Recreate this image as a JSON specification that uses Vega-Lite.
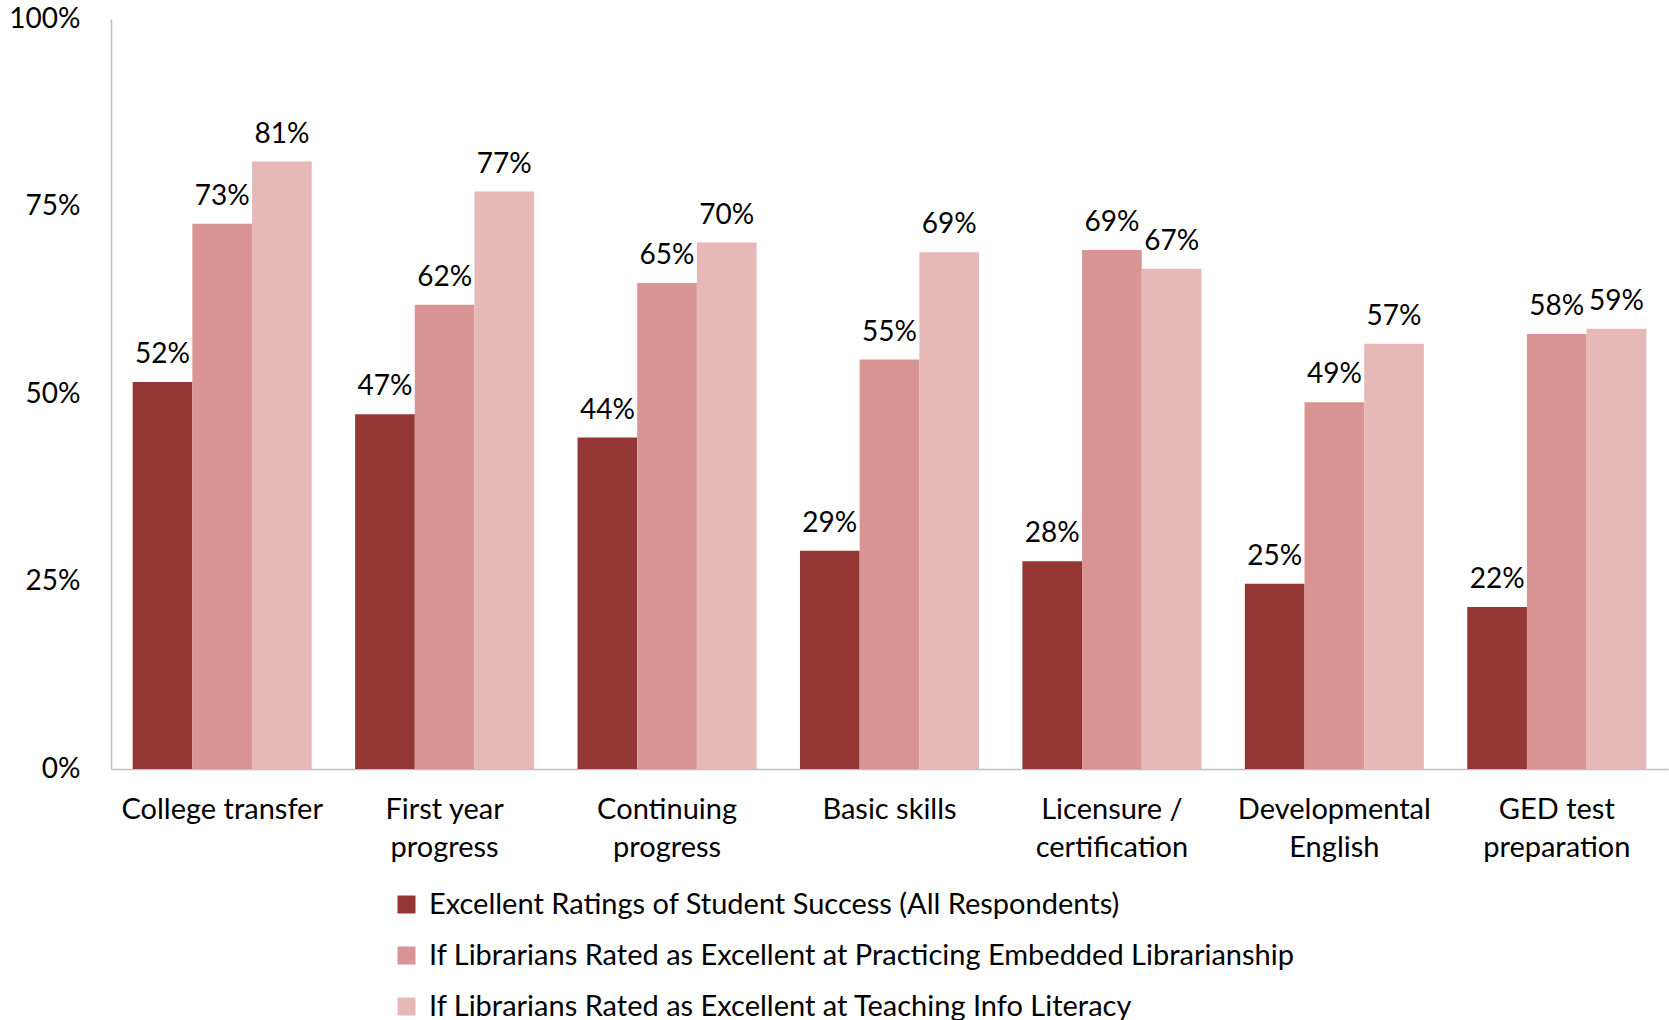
{
  "$schema": "https://vega.github.io/schema/vega-lite/v6.json",
  "width": 1557,
  "height": 750,
  "autosize": {"type": "none"},
  "padding": {"left": 111, "top": 19, "right": 1, "bottom": 251},
  "background": "white",
  "config": {
    "view": {"stroke": null},
    "font": "Lato",
    "axis": {"labelFont": "Lato", "labelColor": "#000000", "domainColor": "#BFBFBF", "domainWidth": 1.5, "ticks": false, "grid": false, "title": null},
    "legend": {"labelFont": "Lato"}
  },
  "data": {
    "values": [
      {"category": "College transfer", "series": "Excellent Ratings of Student Success (All Respondents)", "value": 0.516},
      {"category": "College transfer", "series": "If Librarians Rated as Excellent at Practicing Embedded Librarianship", "value": 0.727},
      {"category": "College transfer", "series": "If Librarians Rated as Excellent at Teaching Info Literacy", "value": 0.810},
      {"category": "First year progress", "series": "Excellent Ratings of Student Success (All Respondents)", "value": 0.473},
      {"category": "First year progress", "series": "If Librarians Rated as Excellent at Practicing Embedded Librarianship", "value": 0.619},
      {"category": "First year progress", "series": "If Librarians Rated as Excellent at Teaching Info Literacy", "value": 0.770},
      {"category": "Continuing progress", "series": "Excellent Ratings of Student Success (All Respondents)", "value": 0.442},
      {"category": "Continuing progress", "series": "If Librarians Rated as Excellent at Practicing Embedded Librarianship", "value": 0.648},
      {"category": "Continuing progress", "series": "If Librarians Rated as Excellent at Teaching Info Literacy", "value": 0.702},
      {"category": "Basic skills", "series": "Excellent Ratings of Student Success (All Respondents)", "value": 0.291},
      {"category": "Basic skills", "series": "If Librarians Rated as Excellent at Practicing Embedded Librarianship", "value": 0.546},
      {"category": "Basic skills", "series": "If Librarians Rated as Excellent at Teaching Info Literacy", "value": 0.689},
      {"category": "Licensure / certification", "series": "Excellent Ratings of Student Success (All Respondents)", "value": 0.277},
      {"category": "Licensure / certification", "series": "If Librarians Rated as Excellent at Practicing Embedded Librarianship", "value": 0.692},
      {"category": "Licensure / certification", "series": "If Librarians Rated as Excellent at Teaching Info Literacy", "value": 0.667},
      {"category": "Developmental English", "series": "Excellent Ratings of Student Success (All Respondents)", "value": 0.247},
      {"category": "Developmental English", "series": "If Librarians Rated as Excellent at Practicing Embedded Librarianship", "value": 0.489},
      {"category": "Developmental English", "series": "If Librarians Rated as Excellent at Teaching Info Literacy", "value": 0.567},
      {"category": "GED test preparation", "series": "Excellent Ratings of Student Success (All Respondents)", "value": 0.216},
      {"category": "GED test preparation", "series": "If Librarians Rated as Excellent at Practicing Embedded Librarianship", "value": 0.580},
      {"category": "GED test preparation", "series": "If Librarians Rated as Excellent at Teaching Info Literacy", "value": 0.587}
    ]
  },
  "encoding": {
    "x": {
      "field": "category",
      "type": "nominal",
      "sort": null,
      "scale": {"paddingInner": 0.195, "paddingOuter": 0.0975},
      "axis": {
        "labelAngle": 0,
        "labelFontSize": 29,
        "labelPadding": 26,
        "labelBaseline": "top",
        "labelLineHeight": 38,
        "labelLimit": 400,
        "labelExpr": "datum.label == 'First year progress' ? ['First year', 'progress'] : datum.label == 'Continuing progress' ? ['Continuing', 'progress'] : datum.label == 'Licensure / certification' ? ['Licensure /', 'certification'] : datum.label == 'Developmental English' ? ['Developmental', 'English'] : datum.label == 'GED test preparation' ? ['GED test', 'preparation'] : datum.label"
      }
    },
    "xOffset": {
      "field": "series",
      "type": "nominal",
      "sort": null,
      "scale": {"paddingInner": 0, "paddingOuter": 0}
    },
    "y": {
      "field": "value",
      "type": "quantitative",
      "scale": {"domain": [0, 1], "nice": false},
      "axis": {"values": [0, 0.25, 0.5, 0.75, 1], "format": ".0%", "labelFontSize": 28, "labelPadding": 31}
    }
  },
  "layer": [
    {
      "mark": {"type": "bar"},
      "encoding": {
        "color": {
          "field": "series",
          "type": "nominal",
          "sort": null,
          "scale": {"range": ["#943634", "#D99594", "#E6B9B8"]},
          "legend": {
            "title": null,
            "orient": "none",
            "legendX": 281,
            "legendY": 871,
            "direction": "vertical",
            "symbolType": "square",
            "symbolSize": 324,
            "symbolStrokeWidth": 0,
            "labelFontSize": 29,
            "labelColor": "#000000",
            "labelOffset": 8,
            "rowPadding": 21,
            "labelLimit": 1300
          }
        }
      }
    },
    {
      "mark": {"type": "text", "baseline": "bottom", "dy": -13, "fontSize": 28, "color": "#000000"},
      "encoding": {
        "text": {"field": "value", "type": "quantitative", "format": ".0%"}
      }
    }
  ]
}
